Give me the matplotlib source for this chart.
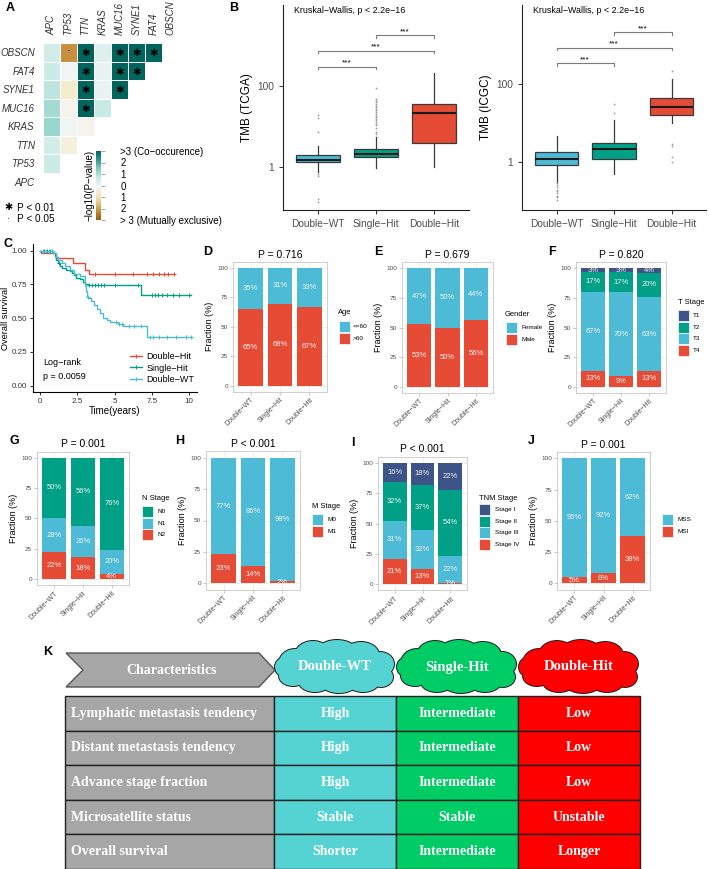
import numpy as np
import matplotlib
matplotlib.use('Agg')
import matplotlib.pyplot as plt
from matplotlib.patches import Rectangle, Ellipse, Polygon
from matplotlib.lines import Line2D
from matplotlib.colors import LinearSegmentedColormap, Normalize
from matplotlib.cm import ScalarMappable

plt.rcParams['font.family'] = ['Liberation Sans', 'DejaVu Sans']

W, H = 709, 869
BLUE, TEAL, RED, NAVY = '#4DBBD5', '#00A087', '#E64B35', '#3C5488'
GTXT = '#4D4D4D'
nan = np.nan

# ---------------- data ----------------
genes = ['APC', 'TP53', 'TTN', 'KRAS', 'MUC16', 'SYNE1', 'FAT4', 'OBSCN']
heat_rows = genes[::-1]
heat_vals = [
    [0.5, -2.2, 3, 0.3, 3, 3, 3, nan],
    [0.6, 0.02, 3, 0.12, 3, 3, nan, nan],
    [0.8, -0.7, 3, 0.08, 3, nan, nan, nan],
    [1.1, -0.2, 3, 0.7, nan, nan, nan, nan],
    [1.2, 0.0, -0.2, nan, nan, nan, nan, nan],
    [0.45, -0.4, nan, nan, nan, nan, nan, nan],
    [0.6, nan, nan, nan, nan, nan, nan, nan],
    [nan, nan, nan, nan, nan, nan, nan, nan],
]
heat_sig = [
    ['', '·', '✱', '', '✱', '✱', '✱', ''],
    ['', '', '✱', '', '✱', '✱', '', ''],
    ['', '', '✱', '', '✱', '', '', ''],
    ['', '', '✱', '', '', '', '', ''],
    [''] * 8, [''] * 8, [''] * 8, [''] * 8,
]
cbar_ticks = [3, 2, 1, 0, -1, -2, -3]
cbar_labels = ['>3 (Co\u2212occurence)', '2', '1', '0', '1', '2', '> 3 (Mutually exclusive)']

groups = ['Double\u2212WT', 'Single\u2212Hit', 'Double\u2212Hit']
grp_colors = [BLUE, TEAL, RED]

tcga_whislo = [0.74, 0.94, 1.0]
tcga_q1 = [1.3, 1.7, 3.9]
tcga_med = [1.5, 2.06, 21]
tcga_q3 = [2.0, 2.8, 35]
tcga_whishi = [3.3, 5.5, 206]
tcga_fliers = [[19, 16, 7.1, 0.68, 0.6, 0.155, 0.135],
               [91, 47, 43, 39, 35, 32, 30, 27, 25, 22, 20, 18, 17, 15, 14, 12.6, 11.5, 10.5, 8.9, 7.4, 6.5],
               []]
tcga_brackets = [300, 740, 1820]

icgc_whislo = [0.32, 0.5, 10]
icgc_q1 = [0.87, 1.2, 16]
icgc_med = [1.24, 2.2, 26]
icgc_q3 = [1.84, 3.2, 44]
icgc_whishi = [4.7, 12, 137]
icgc_fliers = [[0.29, 0.26, 0.23, 0.20, 0.18, 0.16, 0.14, 0.126, 0.107],
               [18, 32],
               [224, 2.95, 2.6, 1.4, 1.0]]
icgc_brackets = [347, 870, 2190]

km_dh_t = [0, 0.05, 1.1, 2.2, 3.0, 3.3, 9.0]
km_dh_s = [1.0, 0.985, 0.948, 0.906, 0.86, 0.825, 0.825]
km_dh_cens = [3.7, 5.0, 6.25, 7.15, 7.6, 8.0, 8.3, 8.6, 9.0]
km_sh_t = [0, 0.85, 1.0, 1.1, 1.2, 1.35, 1.5, 1.75, 2.0, 2.15, 2.3, 2.45, 2.7, 2.9, 3.05, 3.2, 6.8, 10.15]
km_sh_s = [1.0, 0.98, 0.96, 0.93, 0.91, 0.89, 0.875, 0.86, 0.85, 0.835, 0.82, 0.80, 0.79, 0.77, 0.755, 0.745, 0.675, 0.675]
km_sh_cens = [0.3, 0.5, 0.7, 0.8, 1.25, 3.3, 3.5, 3.7, 3.9, 4.1, 4.3, 5.0, 6.6, 7.5, 7.7, 7.9, 8.2, 8.5, 8.9, 9.3, 10.0]
km_wt_t = [0, 0.9, 1.05, 1.2, 1.45, 1.7, 2.0, 2.3, 2.7, 3.0, 3.05, 3.1, 3.15, 3.25, 3.45, 3.6, 3.8, 4.0, 4.25, 4.5, 4.7, 5.25, 5.6, 7.15, 10.2]
km_wt_s = [1.0, 0.98, 0.955, 0.93, 0.91, 0.89, 0.86, 0.83, 0.81, 0.79, 0.74, 0.70, 0.66, 0.65, 0.625, 0.60, 0.57, 0.535, 0.505, 0.485, 0.47, 0.455, 0.445, 0.36, 0.36]
km_wt_cens = [0.2, 0.4, 0.6, 0.8, 3.2, 5.1, 5.3, 5.5, 6.0, 6.3, 6.8, 7.4, 7.6, 8.0, 8.5, 9.1, 9.8, 10.1]

age_levels = ['<=60', '>60']
age_vals = [[35, 31, 33], [65, 69, 67]]
gender_levels = ['Female', 'Male']
gender_vals = [[47, 50, 44], [53, 50, 56]]
t_levels = ['T1', 'T2', 'T3', 'T4']
t_vals = [[3, 3, 4], [17, 17, 20], [67, 70, 63], [13, 9, 13]]
n_levels = ['N0', 'N1', 'N2']
n_vals = [[50, 56, 76], [28, 26, 20], [22, 18, 4]]
m_levels = ['M0', 'M1']
m_vals = [[77, 86, 98], [23, 14, 2]]
tnm_levels = ['Stage I', 'Stage II', 'Stage III', 'Stage IV']
tnm_vals = [[16, 18, 22], [32, 37, 54], [31, 32, 22], [21, 13, 1]]
msi_levels = ['MSS', 'MSI']
msi_vals = [[95, 92, 62], [5, 8, 38]]

k_groups = ['Double-WT', 'Single-Hit', 'Double-Hit']
k_rows = ['Lymphatic metastasis tendency', 'Distant metastasis tendency',
          'Advance stage fraction', 'Microsatellite status', 'Overall survival']
k_dwt = ['High', 'High', 'High', 'Stable', 'Shorter']
k_sh = ['Intermediate', 'Intermediate', 'Intermediate', 'Stable', 'Intermediate']
k_dh = ['Low', 'Low', 'Low', 'Unstable', 'Longer']
k_colors = ['#55D2D2', '#00CC66', '#FF0000']

# ---------------- figure ----------------
fig = plt.figure(figsize=(W / 100, H / 100), dpi=100)


def add_ax(l, t, r, b):
    return fig.add_axes([l / W, 1 - b / H, (r - l) / W, (b - t) / H])


ov = fig.add_axes([0, 0, 1, 1], zorder=10)
ov.set_xlim(0, W)
ov.set_ylim(H, 0)
ov.axis('off')

# panel letters
for lab, x, y in [('A', 10, 8), ('B', 234, 8), ('C', 8, 244), ('D', 208, 252), ('E', 378, 252),
                  ('F', 552, 252), ('G', 14, 441), ('H', 180, 441), ('I', 353, 443), ('J', 531, 441),
                  ('K', 48, 652)]:
    ov.text(x, y, lab, fontsize=9, fontweight='bold', ha='center', va='center')

# ---------------- A: heatmap ----------------
base = plt.get_cmap('BrBG')
cmap = LinearSegmentedColormap.from_list('brbg_c', base(np.linspace(0.12, 0.9, 256)))
axA = add_ax(43, 43, 179, 191)
M = np.ma.masked_invalid(np.array(heat_vals, dtype=float))
axA.pcolormesh(np.arange(9) - 0.5, np.arange(9) - 0.5, M, cmap=cmap, vmin=-3, vmax=3,
               edgecolors='white', linewidth=0.6)
for i in range(8):
    for j in range(8):
        s = heat_sig[i][j]
        if s == '✱':
            axA.text(j, i + 0.05, s, ha='center', va='center', fontsize=7.5, color='black',
                     family=['DejaVu Sans'])
        elif s:
            axA.text(j, i - 0.05, s, ha='center', va='center', fontsize=8, color='black')
axA.set_xlim(-0.5, 7.5)
axA.set_ylim(7.5, -0.5)
axA.xaxis.tick_top()
axA.set_xticks(range(8))
axA.set_xticklabels(genes, rotation=90, fontsize=7, style='italic', color='#333333')
axA.set_yticks(range(8))
axA.set_yticklabels(heat_rows, fontsize=7, style='italic', color='#333333')
axA.tick_params(length=0, pad=6)
for s in axA.spines.values():
    s.set_visible(False)

cax = add_ax(96, 151, 101, 220)
sm = ScalarMappable(norm=Normalize(-3, 3), cmap=cmap)
cb = fig.colorbar(sm, cax=cax)
cb.outline.set_visible(False)
cb.set_ticks(cbar_ticks)
cb.set_ticklabels(cbar_labels)
cax.tick_params(length=3, color='#999999', labelsize=7, pad=11, width=0.6)
cax.yaxis.set_label_position('left')
cax.set_ylabel('\u2212log10(P\u2212value)', fontsize=7, labelpad=1)

ov.text(8, 207, '✱', fontsize=7, ha='center', va='center', family=['DejaVu Sans'])
ov.text(17, 208, 'P < 0.01', fontsize=7.2, va='center')
ov.text(8, 221, '·', fontsize=6, ha='center', va='baseline')
ov.text(17, 219, 'P < 0.05', fontsize=7.2, va='center')

# ---------------- B: boxplots ----------------


def box_panel(rect, whislo, q1, med, q3, whishi, fliers, brackets, ylim, ylabel):
    ax = add_ax(*rect)
    stats = []
    for k in range(3):
        stats.append(dict(whislo=whislo[k], q1=q1[k], med=med[k], q3=q3[k], whishi=whishi[k],
                          fliers=np.array(fliers[k], dtype=float)))
    bp = ax.bxp(stats, positions=[1, 2, 3], widths=0.75, patch_artist=True, showcaps=False,
                boxprops=dict(edgecolor='#3a3a3a', linewidth=0.9),
                medianprops=dict(color='#1a1a1a', linewidth=1.5),
                whiskerprops=dict(color='#3a3a3a', linewidth=0.9),
                flierprops=dict(marker='o', markersize=1.3, markerfacecolor='#9a9a9a',
                                markeredgecolor='none'))
    for patch, c in zip(bp['boxes'], grp_colors):
        patch.set_facecolor(c)
    pairs = [(1, 2), (1, 3), (2, 3)]
    for (a, b), h in zip(pairs, brackets):
        lo = h * 10 ** -0.066
        ax.plot([a, a, b, b], [lo, h, h, lo], color='#7a7a7a', lw=0.8)
        ax.text((a + b) / 2, h * 10 ** 0.05, '***', ha='center', va='baseline', fontsize=6)
    ax.set_yscale('log')
    ax.set_ylim(*ylim)
    ax.set_xlim(0.4, 3.6)
    ax.set_yticks([1, 100])
    ax.set_yticklabels(['1', '100'])
    ax.minorticks_off()
    ax.set_xticks([1, 2, 3])
    ax.set_xticklabels(groups)
    ax.tick_params(labelsize=7.3, labelcolor=GTXT, length=3, color='#333333', width=0.7)
    for s in ['top', 'right']:
        ax.spines[s].set_visible(False)
    for s in ['left', 'bottom']:
        ax.spines[s].set_linewidth(0.8)
        ax.spines[s].set_color('#222222')
    ax.set_ylabel(ylabel, fontsize=8.5, labelpad=3)
    ax.text(0.06, 0.975, 'Kruskal\u2212Wallis, p < 2.2e\u221216', transform=ax.transAxes,
            fontsize=6.4, va='center', ha='left')
    return ax


box_panel((283, 5, 469, 210), tcga_whislo, tcga_q1, tcga_med, tcga_q3, tcga_whishi, tcga_fliers,
          tcga_brackets, (10 ** -1.07, 10 ** 4.0), 'TMB (TCGA)')
box_panel((522, 5, 706, 210), icgc_whislo, icgc_q1, icgc_med, icgc_q3, icgc_whishi, icgc_fliers,
          icgc_brackets, (10 ** -1.22, 10 ** 4.03), 'TMB (ICGC)')

# ---------------- C: KM ----------------
axC = add_ax(32.5, 244, 196.5, 392.4)
km = [(km_dh_t, km_dh_s, km_dh_cens, RED, 'Double\u2212Hit'),
      (km_sh_t, km_sh_s, km_sh_cens, TEAL, 'Single\u2212Hit'),
      (km_wt_t, km_wt_s, km_wt_cens, BLUE, 'Double\u2212WT')]
handles = []
for t, s, cens, c, lab in km:
    axC.step(t, s, where='post', color=c, lw=1.0)
    idx = np.searchsorted(t, cens, side='right') - 1
    cs = np.array(s)[idx]
    axC.plot(cens, cs, ls='none', marker='+', color=c, ms=3.5, mew=0.7)
    handles.append(Line2D([], [], color=c, lw=1.0, marker='+', ms=3.5, mew=0.7, label=lab))
axC.set_xlim(-0.5, 10.5)
axC.set_ylim(-0.05, 1.05)
axC.set_xticks([0, 2.5, 5, 7.5, 10])
axC.set_xticklabels(['0', '2.5', '5', '7.5', '10'])
axC.set_yticks([0, 0.25, 0.5, 0.75, 1.0])
axC.set_yticklabels(['0.00', '0.25', '0.50', '0.75', '1.00'])
axC.tick_params(labelsize=5.8, length=2.5, color='#333333', width=0.7, labelcolor='#333333', pad=1.5)
for s in ['top', 'right']:
    axC.spines[s].set_visible(False)
for s in ['left', 'bottom']:
    axC.spines[s].set_linewidth(0.8)
axC.set_xlabel('Time(years)', fontsize=7, labelpad=1)
axC.set_ylabel('Overall survival', fontsize=6.6)
axC.yaxis.set_label_coords(-0.135, 0.5)
axC.legend(handles=handles, loc='upper left', bbox_to_anchor=(0.57, 0.30), frameon=False,
           fontsize=6.5, handlelength=1.3, handletextpad=0.5, labelspacing=0.25, borderpad=0)
axC.text(0.065, 0.20, 'Log\u2212rank', transform=axC.transAxes, fontsize=6.5, va='center')
axC.text(0.065, 0.105, 'p = 0.0059', transform=axC.transAxes, fontsize=6.5, va='center')

# ---------------- D-J: stacked bars ----------------


def stacked(rect, levels, vals, colors, title, leg_title, tx, ty, kx, ktop, lx):
    ax = add_ax(*rect)
    x = np.arange(1, 4)
    vals = np.array(vals, dtype=float)
    tot = vals.sum(axis=0)
    heights = vals / tot * 100
    bottom = np.zeros(3)
    for li in range(len(levels) - 1, -1, -1):
        ax.bar(x, heights[li], 0.85, bottom=bottom, color=colors[li], zorder=2)
        for k in range(3):
            ax.text(x[k], bottom[k] + heights[li][k] / 2, f'{int(vals[li][k])}%', ha='center',
                    va='center', fontsize=5.5, color='#F2F2F2', zorder=3)
        bottom = bottom + heights[li]
    ax.set_xlim(0.4, 3.6)
    ax.set_ylim(-5, 105)
    ax.set_yticks([0, 25, 50, 75, 100])
    ax.set_yticks([12.5, 37.5, 62.5, 87.5], minor=True)
    ax.set_xticks(x)
    ax.set_xticklabels(groups, rotation=45, ha='right', va='top', rotation_mode='anchor', fontsize=5)
    ax.grid(True, which='major', color='#EBEBEB', lw=0.6, zorder=0)
    ax.grid(True, which='minor', axis='y', color='#F3F3F3', lw=0.35, zorder=0)
    ax.set_axisbelow(True)
    ax.tick_params(which='major', labelcolor=GTXT, length=2, color='#B3B3B3', width=0.5, pad=1.5)
    ax.tick_params(axis='y', labelsize=4.6)
    ax.tick_params(which='minor', length=0)
    for s in ax.spines.values():
        s.set_color('#C8C8C8')
        s.set_linewidth(0.6)
    ax.set_ylabel('Fraction (%)', fontsize=6.5, labelpad=2)
    ax.set_title(title, fontsize=7.5, pad=3)
    if leg_title:
        ov.text(tx, ty, leg_title, fontsize=5.4, va='center', ha='left')
    for i, (lv, c) in enumerate(zip(levels, colors)):
        y0 = ktop + i * 11.7
        ov.add_patch(Rectangle((kx, y0), 11, 11, facecolor=c, edgecolor='white', lw=0.5))
        ov.text(lx, y0 + 5.5, lv, fontsize=4.6, va='center', ha='left')
    return ax


stacked((233, 261.8, 327, 391.6), age_levels, age_vals, [BLUE, RED], 'P = 0.716', 'Age',
        338, 313, 339, 321, 353)
stacked((402, 262.4, 493, 392.6), gender_levels, gender_vals, [BLUE, RED], 'P = 0.679', 'Gender',
        505, 315, 506, 322, 521)
stacked((576, 262.4, 666, 392.6), t_levels, t_vals, [NAVY, TEAL, BLUE, RED], 'P = 0.820', 'T Stage',
        678, 303, 678, 310, 693)
stacked((37, 451.6, 129, 585), n_levels, n_vals, [TEAL, BLUE, RED], 'P = 0.001', 'N Stage',
        142, 499, 142, 506, 157)
stacked((206, 451.4, 300, 589.6), m_levels, m_vals, [BLUE, RED], 'P < 0.001', 'M Stage',
        312, 506, 312, 514, 328)
stacked((378, 456.6, 467, 590.4), tnm_levels, tnm_vals, [NAVY, TEAL, BLUE, RED], 'P < 0.001',
        'TNM Stage', 479, 498, 479, 504, 495)
stacked((557, 452, 650, 589.6), msi_levels, msi_vals, [BLUE, RED], 'P = 0.001', None,
        0, 0, 662, 514, 678)

# ---------------- K: summary table ----------------
serif = dict(family=['Liberation Serif', 'DejaVu Serif'], fontweight='bold', color='white')
ov.add_patch(Polygon([(66, 653), (259, 653), (275, 670), (259, 687), (66, 687), (83, 670)],
                     closed=True, facecolor='#A6A6A6', edgecolor='#555555', lw=1.0))
ov.text(172, 671, 'Characteristics', ha='center', va='center', fontsize=10, **serif)

bumps = [(0, 0, 50, 18), (-40, -4, 16, 14), (-22, -12, 18, 14), (2, -15, 20, 12), (26, -12, 18, 13),
         (45, -3, 14, 12), (46, 10, 12, 10), (28, 15, 16, 10), (4, 16, 18, 10), (-20, 15, 16, 10),
         (-42, 9, 14, 10), (-52, 0, 8, 9)]
col_edges = [65, 274, 396, 518, 640]
cloud_cx = [(col_edges[i + 1] + col_edges[i + 2]) / 2 for i in range(3)]
for cx, g, c in zip(cloud_cx, k_groups, k_colors):
    cy = 667
    for dx, dy, rx, ry in bumps:
        ov.add_patch(Ellipse((cx + dx, cy + dy), 2 * rx, 2 * ry, facecolor=c, edgecolor='#1a1a1a', lw=1.4))
    for dx, dy, rx, ry in bumps:
        ov.add_patch(Ellipse((cx + dx, cy + dy), 2 * rx, 2 * ry, facecolor=c, edgecolor='none'))
    ov.text(cx, cy, g, ha='center', va='center', fontsize=10.5, **serif)

row_top, row_h = 696, 34.6
cols_vals = [k_dwt, k_sh, k_dh]
for r, lab in enumerate(k_rows):
    y0 = row_top + r * row_h
    ov.add_patch(Rectangle((col_edges[0], y0), col_edges[1] - col_edges[0], row_h,
                           facecolor='#A6A6A6', edgecolor='#222222', lw=1.0))
    ov.text(col_edges[0] + 6, y0 + row_h / 2, lab, ha='left', va='center', fontsize=10, **serif)
    for ci in range(3):
        ov.add_patch(Rectangle((col_edges[ci + 1], y0), col_edges[ci + 2] - col_edges[ci + 1], row_h,
                               facecolor=k_colors[ci], edgecolor='#222222', lw=1.0))
        ov.text((col_edges[ci + 1] + col_edges[ci + 2]) / 2, y0 + row_h / 2, cols_vals[ci][r],
                ha='center', va='center', fontsize=10, **serif)

fig.savefig('out.png', dpi=100)
